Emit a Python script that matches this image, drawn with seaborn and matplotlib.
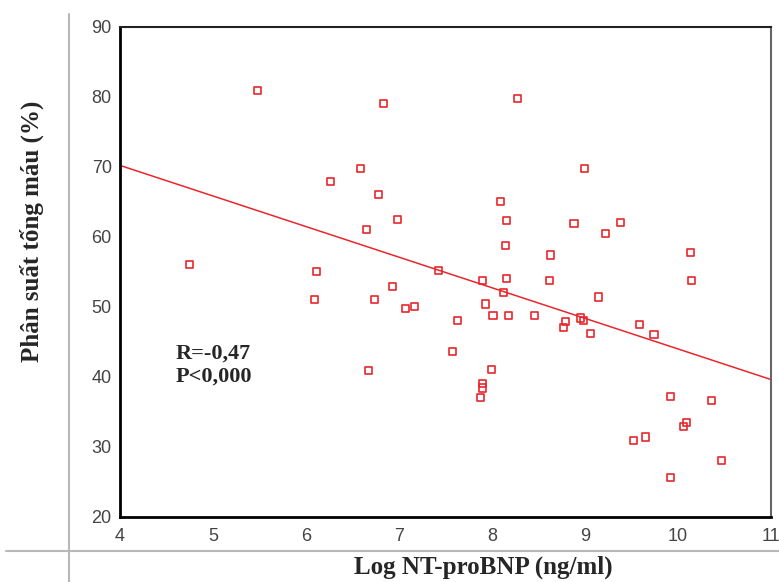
import numpy as np
import pandas as pd
import seaborn as sns
import matplotlib.pyplot as plt
from matplotlib.lines import Line2D

# Log NT-proBNP (x) vs. ejection fraction (y)
log_ntprobnp = [4.75, 5.48, 6.11, 6.09, 6.26, 6.59, 6.65, 6.67, 6.74, 6.78,
                6.83, 6.93, 6.98, 7.07, 7.17, 7.42, 7.57, 7.63, 7.88, 7.90,
                7.90, 7.90, 7.93, 7.99, 8.01, 8.09, 8.12, 8.14, 8.15, 8.15,
                8.18, 8.27, 8.46, 8.62, 8.63, 8.77, 8.79, 8.88, 8.95, 8.98,
                8.99, 9.06, 9.14, 9.22, 9.38, 9.52, 9.58, 9.65, 9.74, 9.92,
                9.92, 10.06, 10.09, 10.13, 10.14, 10.36, 10.47]
ef = [56.0, 80.9, 55.0, 51.0, 67.9, 69.8, 61.1, 40.9, 51.0, 66.1,
      79.0, 52.9, 62.5, 49.8, 50.0, 55.2, 43.6, 48.1, 37.1, 38.4,
      39.0, 53.7, 50.4, 41.1, 48.8, 65.0, 52.1, 58.7, 62.3, 54.1,
      48.8, 79.7, 48.8, 53.7, 57.4, 47.1, 47.9, 61.9, 48.4, 48.0,
      69.8, 46.2, 51.4, 60.5, 62.1, 30.9, 47.5, 31.4, 46.1, 37.2,
      25.6, 32.9, 33.5, 57.8, 53.7, 36.6, 28.0]
# fitted line as drawn in the original (ends at x=4 and x=11)
fit_x = [4, 11]
fit_y = [70.2, 39.6]
x_ticks = [4, 5, 6, 7, 8, 9, 10, 11]
y_ticks = [20, 30, 40, 50, 60, 70, 80, 90]

df = pd.DataFrame({'x': log_ntprobnp, 'y': ef})
red = '#e8262c'

sns.set_style('white')
plt.rcParams['font.family'] = ['Liberation Sans', 'DejaVu Sans']

fig = plt.figure(figsize=(7.79, 5.82), dpi=100)
ax = fig.add_axes([0.154, 0.112, 0.836, 0.842])

sns.scatterplot(data=df, x='x', y='y', ax=ax, marker='s', s=26,
                facecolor='none', edgecolor=red, linewidth=1.2, zorder=3)
sns.lineplot(x=fit_x, y=fit_y, ax=ax, color=red, linewidth=1.1)

ax.set_xlim(4, 11)
ax.set_ylim(20, 90)
ax.set_xticks(x_ticks)
ax.set_yticks(y_ticks)
ax.tick_params(direction='out', length=3, width=2, color='black',
               labelsize=13, labelcolor='#444444', pad=3)
ax.tick_params(axis='x', pad=5)
ax.set_xlabel('')
ax.set_ylabel('')

for side in ['left', 'bottom']:
    ax.spines[side].set_linewidth(2)
    ax.spines[side].set_color('black')
ax.spines['top'].set_linewidth(1.5)
ax.spines['top'].set_color('#222222')
ax.spines['right'].set_linewidth(1.5)
ax.spines['right'].set_color('#666666')

ax.text(4.6, 44.7, 'R=-0,47\nP<0,000', family=['Liberation Serif', 'DejaVu Serif'],
        fontsize=16, fontweight='bold', va='top', ha='left', linespacing=1.15)

fig.text(0.62, 0.025, 'Log NT-proBNP (ng/ml)', family=['Liberation Serif', 'DejaVu Serif'],
         fontsize=18, fontweight='bold', ha='center', va='center')
fig.text(0.041, 0.603, 'Phân suất tống máu (%)', family=['Liberation Serif', 'DejaVu Serif'],
         fontsize=18, fontweight='bold', ha='center', va='center', rotation=90)

# table borders around the figure
fig.add_artist(Line2D([0.008, 1.0], [0.054, 0.054], color='#b8b8b8', linewidth=1.5))
fig.add_artist(Line2D([0.089, 0.089], [0.0, 0.976], color='#b8b8b8', linewidth=1.5))

fig.savefig('out.png', dpi=100)
